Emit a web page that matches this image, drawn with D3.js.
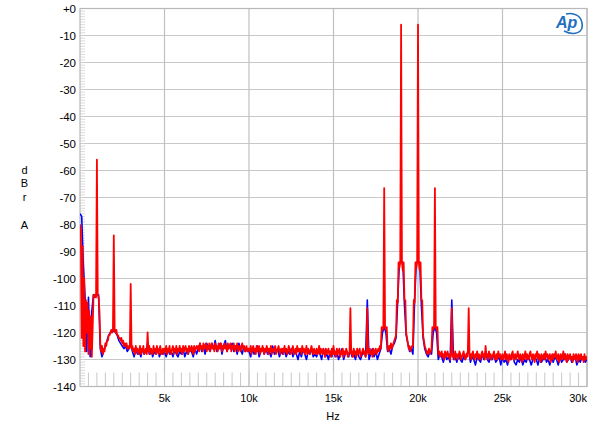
<!DOCTYPE html>
<html><head><meta charset="utf-8">
<script src="https://cdn.jsdelivr.net/npm/d3@7"></script>
<style>body{margin:0;background:#fff} text{font-family:"Liberation Sans",Arial,sans-serif}</style>
</head><body><svg id="c" width="600" height="430"></svg>
<script>
// Spectrum bins (Hz per bin) for each trace
const redBinHz = 50;
const blueBinHz = 100;
// Red trace, 50 Hz bins, 0 .. 30000 Hz (dBrA)
const redDb = [
-80,-82,-122,-88,-125,-100,-127,-108,-120,-109,-128,-112,-126,-114,-129,-118,-106,-107,-106,-107,
-56,-106,-107,-112,-124,-127,-125,-128,-126,-127,-124,-125,-123,-123,-121,-121,-120,-119,-120,-119,
-84,-119,-120,-119,-121,-121,-122,-122,-123,-122,-124,-123,-125,-124,-125,-124,-126,-125,-126,-125,
-102,-126,-125,-127,-126,-128,-125,-127,-126,-128,-127,-125,-128,-126,-127,-125,-128,-127,-126,-128,
-120,-127,-125,-128,-126,-127,-128,-125,-127,-126,-128,-125,-127,-128,-126,-125,-128,-127,-126,-128,
-126,-127,-125,-128,-126,-127,-125,-128,-127,-126,-125,-128,-126,-127,-125,-128,-126,-127,-125,-127,
-126,-128,-125,-127,-126,-125,-127,-126,-128,-125,-126,-127,-125,-126,-128,-125,-127,-126,-125,-126,
-125,-127,-124,-126,-125,-127,-124,-126,-125,-124,-127,-125,-126,-124,-127,-125,-124,-126,-125,-127,
-124,-126,-125,-127,-124,-126,-125,-124,-127,-125,-126,-124,-126,-125,-127,-124,-126,-125,-124,-127,
-125,-126,-124,-127,-125,-126,-124,-127,-125,-126,-127,-125,-124,-126,-125,-127,-126,-125,-127,-126,
-126,-127,-125,-128,-126,-125,-127,-126,-128,-125,-127,-126,-125,-128,-126,-127,-125,-126,-128,-126,
-127,-125,-126,-128,-126,-127,-125,-128,-126,-127,-126,-125,-128,-127,-126,-125,-127,-128,-126,-127,
-126,-128,-125,-127,-126,-128,-127,-125,-126,-128,-127,-126,-125,-128,-127,-126,-128,-125,-127,-126,
-127,-126,-128,-125,-127,-126,-128,-127,-125,-128,-126,-127,-128,-126,-125,-127,-128,-126,-127,-128,
-126,-128,-127,-125,-128,-126,-127,-128,-126,-127,-129,-126,-128,-127,-126,-128,-127,-129,-126,-128,
-125,-128,-127,-129,-126,-128,-127,-126,-129,-127,-128,-126,-129,-127,-128,-126,-127,-129,-128,-127,
-111,-128,-127,-129,-126,-128,-127,-129,-126,-128,-127,-126,-129,-128,-127,-126,-128,-127,-129,-127,
-111,-128,-127,-126,-128,-127,-129,-126,-128,-127,-126,-128,-127,-126,-127,-125,-126,-118,-119,-118,
-66.5,-118,-119,-118,-126,-127,-125,-126,-124,-126,-125,-124,-123,-122,-121,-108,-109,-94,-96,-94,
-6,-94,-97,-94,-108,-108,-120,-122,-124,-126,-125,-127,-126,-125,-125,-108,-109,-94,-96,-94,
-6,-94,-97,-94,-108,-108,-121,-123,-125,-126,-127,-128,-127,-126,-128,-127,-126,-118,-119,-118,
-66.5,-118,-119,-118,-128,-127,-129,-128,-127,-129,-128,-130,-127,-129,-128,-127,-129,-128,-130,-128,
-111,-129,-128,-130,-127,-129,-128,-130,-129,-127,-128,-130,-129,-128,-127,-129,-130,-128,-129,-127,
-111,-129,-128,-130,-128,-127,-129,-130,-128,-129,-127,-130,-128,-129,-130,-128,-127,-129,-128,-130,
-125,-129,-128,-130,-127,-129,-128,-130,-129,-128,-127,-130,-129,-128,-130,-127,-129,-128,-130,-129,
-128,-130,-129,-127,-130,-128,-129,-131,-128,-129,-130,-128,-127,-130,-129,-128,-130,-129,-127,-129,
-130,-128,-129,-131,-128,-130,-129,-127,-130,-128,-129,-130,-128,-127,-129,-130,-128,-129,-131,-128,
-129,-127,-130,-128,-129,-131,-128,-130,-129,-128,-130,-127,-129,-128,-130,-129,-128,-131,-129,-128,
-130,-128,-129,-127,-130,-129,-128,-131,-129,-128,-130,-129,-127,-130,-128,-129,-131,-128,-130,-129,
-128,-130,-129,-131,-128,-129,-130,-128,-129,-131,-128,-130,-129,-128,-130,-129,-131,-128,-130,-129,
-130];
// Blue trace, 100 Hz bins, 0 .. 30000 Hz (dBrA)
const blueDb = [
-76,-77,-95,-107,-127,-107,-129,-112,-106,-106,
-106,-106,-126,-129,-127,-125,-123,-121,-120,-120,
-119,-120,-121,-123,-124,-125,-126,-125,-127,-126,
-124,-127,-129,-126,-128,-127,-129,-126,-128,-127,
-124,-128,-126,-129,-127,-128,-126,-129,-127,-128,
-127,-129,-126,-128,-127,-129,-126,-128,-129,-127,
-128,-126,-129,-127,-128,-126,-127,-129,-126,-128,
-126,-124,-127,-125,-128,-124,-126,-127,-124,-126,
-123,-127,-125,-124,-128,-125,-123,-127,-125,-126,
-124,-127,-125,-128,-124,-126,-128,-125,-127,-126,
-127,-129,-126,-128,-127,-125,-129,-127,-126,-128,
-126,-128,-127,-129,-125,-128,-127,-126,-129,-127,
-128,-126,-129,-127,-128,-126,-129,-127,-128,-130,
-127,-129,-126,-128,-130,-127,-128,-126,-129,-128,
-129,-127,-128,-130,-126,-129,-128,-130,-127,-129,
-126,-129,-127,-130,-128,-126,-130,-128,-127,-129,
-126,-129,-128,-130,-127,-129,-130,-128,-127,-129,
-108,-130,-128,-126,-129,-127,-130,-128,-126,-120,
-118,-120,-127,-126,-128,-125,-124,-122,-108,-94,
-94,-94,-110,-121,-124,-127,-126,-128,-108,-94,
-94,-94,-110,-122,-126,-128,-129,-127,-128,-120,
-118,-120,-130,-128,-129,-131,-128,-130,-129,-131,
-108,-130,-129,-131,-128,-130,-131,-129,-130,-128,
-126,-131,-129,-130,-132,-129,-130,-131,-128,-130,
-127,-130,-131,-129,-130,-128,-131,-130,-129,-132,
-129,-131,-130,-132,-129,-130,-128,-131,-132,-130,
-131,-129,-132,-130,-131,-129,-130,-132,-130,-129,
-130,-132,-129,-131,-130,-128,-131,-130,-132,-129,
-131,-129,-130,-132,-129,-131,-130,-128,-131,-130,
-129,-131,-130,-129,-132,-130,-131,-129,-130,-131,
-130];
const yTicks = [0,-10,-20,-30,-40,-50,-60,-70,-80,-90,-100,-110,-120,-130,-140];
const yTickLabels = ["+0","-10","-20","-30","-40","-50","-60","-70","-80","-90","-100","-110","-120","-130","-140"];
const xTicks = [5000,10000,15000,20000,25000,30000];
const xTickLabels = ["5k","10k","15k","20k","25k","30k"];
const yTitle = ["d","B","r","","A"];
const xTitle = "Hz";

const svg = d3.select("#c");
const L=80, R=587, T=8.5, B=386.5;
const x = d3.scaleLinear().domain([0,30000]).range([L,R]);
const y = d3.scaleLinear().domain([0,-140]).range([T,B]);

// grid
svg.append("g").selectAll("line").data(yTicks).join("line")
  .attr("x1",L).attr("x2",R).attr("y1",d=>y(d)).attr("y2",d=>y(d))
  .attr("stroke","#c8c8c8").attr("stroke-width",1.2);
svg.append("g").selectAll("line").data(xTicks).join("line")
  .attr("x1",d=>x(d)).attr("x2",d=>x(d)).attr("y1",T).attr("y2",B)
  .attr("stroke","#c0c0c0").attr("stroke-width",1.2);
// minor ticks
svg.append("g").selectAll("line").data(d3.range(0,-141,-1)).join("line")
  .attr("x1",L).attr("x2",L+5).attr("y1",d=>y(d)).attr("y2",d=>y(d))
  .attr("stroke","#d0d0d0").attr("stroke-width",0.8);
svg.append("g").selectAll("line").data(d3.range(500,30000,500)).join("line")
  .attr("x1",d=>x(d)).attr("x2",d=>x(d)).attr("y1",B-14).attr("y2",B)
  .attr("stroke","#c8c8c8").attr("stroke-width",1);
// frame
svg.append("rect").attr("x",L).attr("y",T).attr("width",R-L).attr("height",B-T)
  .attr("fill","none").attr("stroke","#b8b8b8").attr("stroke-width",1.2);

svg.append("clipPath").attr("id","clip").append("rect")
  .attr("x",L).attr("y",T).attr("width",R-L).attr("height",B-T);

const lineR = d3.line().x((d,i)=>x(i*redBinHz)).y(d=>y(d));
const lineB = d3.line().x((d,i)=>x(i*blueBinHz)).y(d=>y(d));
svg.append("path").datum(blueDb).attr("d",lineB).attr("clip-path","url(#clip)")
  .attr("fill","none").attr("stroke","#0000ff").attr("stroke-width",1.6).attr("stroke-linejoin","round");
svg.append("path").datum(redDb).attr("d",lineR).attr("clip-path","url(#clip)")
  .attr("fill","none").attr("stroke","#ff0000").attr("stroke-width",1.8).attr("stroke-linejoin","round");

// labels
svg.append("g").selectAll("text").data(yTicks).join("text")
  .attr("x",76).attr("y",d=>y(d)+4).attr("text-anchor","end")
  .attr("font-size",11.5).attr("fill","#000").text((d,i)=>yTickLabels[i]);
svg.append("g").selectAll("text").data(xTicks).join("text")
  .attr("x",(d,i)=>i===xTicks.length-1?R:x(d)).attr("y",402)
  .attr("text-anchor",(d,i)=>i===xTicks.length-1?"end":"middle")
  .attr("font-size",11).attr("fill","#000").text((d,i)=>xTickLabels[i]);
svg.append("text").attr("x",333).attr("y",420).attr("text-anchor","middle")
  .attr("font-size",11).text(xTitle);
const yTitleY=[174,187,201,215,229];
svg.append("g").selectAll("text").data(yTitle).join("text")
  .attr("x",24.5).attr("y",(d,i)=>yTitleY[i]).attr("text-anchor","middle")
  .attr("font-size",11).text(d=>d);

// logo
const logo = svg.append("g").attr("transform","translate(554,11)");
logo.append("path").attr("d","M10,20 C20,25 30,22 28,12 C27,5 20,1 12,3")
  .attr("fill","none").attr("stroke","#1f6fbf").attr("stroke-width",1.6);
logo.append("text").attr("x",2).attr("y",17).attr("font-size",16).attr("font-style","italic")
  .attr("font-weight","bold").attr("fill","#1f6fbf").attr("font-family","Liberation Sans, Arial").text("Ap");
</script></body></html>
